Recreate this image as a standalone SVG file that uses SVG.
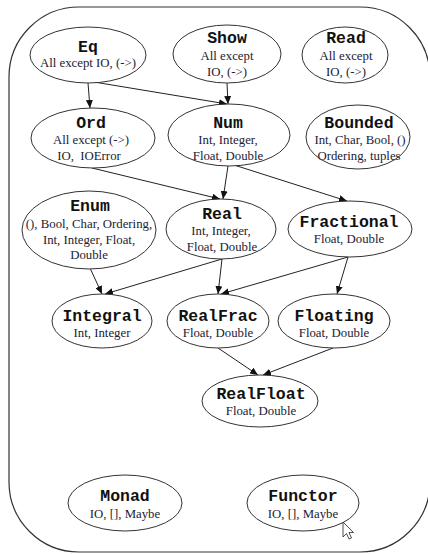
<svg xmlns="http://www.w3.org/2000/svg" width="428" height="554" viewBox="0 0 428 554">
<defs>
<style>
.node ellipse{fill:#fff;stroke:#333;stroke-width:1}
.t{font-family:"Liberation Mono","DejaVu Sans Mono",monospace;font-weight:bold;font-size:16.5px;fill:#111;text-anchor:middle}
.s{font-family:"Liberation Serif","Times New Roman",serif;font-size:12.8px;fill:#223;text-anchor:middle}
#edges line{stroke:#222;stroke-width:1;marker-end:url(#ah)}
</style>
<marker id="ah" markerUnits="userSpaceOnUse" markerWidth="8" markerHeight="7" refX="8" refY="3.5" orient="auto">
<path d="M0,0 L8,3.5 L0,7 z" fill="#111"/>
</marker>
</defs>
<rect width="428" height="554" fill="#fff"/>
<rect x="9" y="7" width="421" height="545" rx="70" ry="70" fill="none" stroke="#333" stroke-width="1.2"/>

<g id="edges">
<line x1="88" y1="83" x2="90" y2="108"/>
<line x1="94" y1="82" x2="227" y2="104"/>
<line x1="227" y1="83" x2="228" y2="104"/>
<line x1="92" y1="168" x2="220" y2="199"/>
<line x1="228" y1="166" x2="223" y2="199"/>
<line x1="234" y1="165" x2="347" y2="201"/>
<line x1="90" y1="268" x2="102" y2="294"/>
<line x1="222" y1="259" x2="105" y2="294"/>
<line x1="222" y1="259" x2="218" y2="294"/>
<line x1="348" y1="257" x2="221" y2="294"/>
<line x1="348" y1="257" x2="337" y2="294"/>
<line x1="218" y1="348" x2="258" y2="375"/>
<line x1="333" y1="348" x2="263" y2="375"/>
</g>

<g id="Eq" class="node"><ellipse cx="88" cy="55" rx="58" ry="28"/><text class="t" x="88" y="52">Eq</text><text class="s" x="88" y="67">All except IO, (-&gt;)</text></g>
<g id="Show" class="node"><ellipse cx="227" cy="54" rx="54" ry="29"/><text class="t" x="227" y="43">Show</text><text class="s" x="227" y="59.5">All except</text><text class="s" x="227" y="75.5">IO, (-&gt;)</text></g>
<g id="Read" class="node"><ellipse cx="345" cy="55" rx="43" ry="28"/><text class="t" x="346" y="43">Read</text><text class="s" x="346" y="59.5">All except</text><text class="s" x="346" y="75.5">IO, (-&gt;)</text></g>

<g id="Ord" class="node"><ellipse cx="93" cy="138" rx="62" ry="30"/><text class="t" x="91" y="128">Ord</text><text class="s" x="91" y="144">All except (-&gt;)</text><text class="s" x="89" y="160">IO,&#160; IOError</text></g>
<g id="Num" class="node"><ellipse cx="229" cy="135" rx="61" ry="31"/><text class="t" x="228" y="128">Num</text><text class="s" x="228" y="144">Int, Integer,</text><text class="s" x="228" y="160">Float, Double</text></g>
<g id="Bounded" class="node"><ellipse cx="358" cy="137" rx="52" ry="32"/><text class="t" x="359" y="128">Bounded</text><text class="s" x="360" y="144">Int, Char, Bool, ()</text><text class="s" x="359" y="160">Ordering, tuples</text></g>

<g id="Enum" class="node"><ellipse cx="89" cy="230" rx="67" ry="39"/><text class="t" x="90" y="211">Enum</text><text class="s" x="89" y="228">(), Bool, Char, Ordering,</text><text class="s" x="89" y="244">Int, Integer, Float,</text><text class="s" x="89" y="259">Double</text></g>
<g id="Real" class="node"><ellipse cx="221" cy="229" rx="55" ry="30"/><text class="t" x="222" y="219">Real</text><text class="s" x="221" y="235">Int, Integer,</text><text class="s" x="222" y="251">Float, Double</text></g>
<g id="Fractional" class="node"><ellipse cx="350" cy="229" rx="62" ry="28"/><text class="t" x="349" y="227">Fractional</text><text class="s" x="349" y="243">Float, Double</text></g>

<g id="Integral" class="node"><ellipse cx="102" cy="321" rx="50" ry="27"/><text class="t" x="102" y="321">Integral</text><text class="s" x="102" y="337">Int, Integer</text></g>
<g id="RealFrac" class="node"><ellipse cx="218" cy="321" rx="51" ry="27"/><text class="t" x="218" y="321">RealFrac</text><text class="s" x="218" y="337">Float, Double</text></g>
<g id="Floating" class="node"><ellipse cx="334" cy="321" rx="56" ry="27"/><text class="t" x="334" y="321">Floating</text><text class="s" x="334" y="337">Float, Double</text></g>

<g id="RealFloat" class="node"><ellipse cx="260" cy="401" rx="58" ry="26"/><text class="t" x="261" y="399">RealFloat</text><text class="s" x="261" y="415">Float, Double</text></g>

<g id="Monad" class="node"><ellipse cx="125" cy="503" rx="57" ry="28"/><text class="t" x="125" y="501">Monad</text><text class="s" x="125" y="518">IO, [], Maybe</text></g>
<g id="Functor" class="node"><ellipse cx="303" cy="503" rx="56" ry="28"/><text class="t" x="303" y="501">Functor</text><text class="s" x="303" y="518">IO, [], Maybe</text></g>

<path d="M343,522 L343,537 L346.5,533.5 L349,539 L351.5,538 L349,532.5 L353.5,532.5 z" fill="#fff" stroke="#222" stroke-width="0.8" stroke-linejoin="round"/>
</svg>
